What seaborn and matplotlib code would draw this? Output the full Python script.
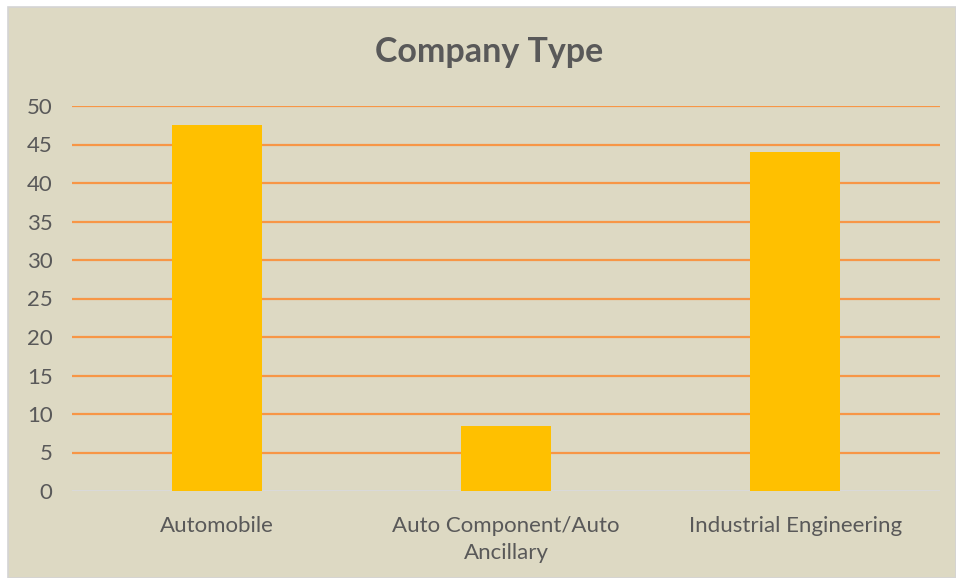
import matplotlib
matplotlib.use("Agg")
import matplotlib.pyplot as plt
from matplotlib.patches import Rectangle
import seaborn as sns
import pandas as pd

categories = ["Automobile", "Auto Component/Auto\nAncillary", "Industrial Engineering"]
values = [47.5, 8.5, 44.0]
yticks = [0, 5, 10, 15, 20, 25, 30, 35, 40, 45, 50]

sns.set_theme(style="white")
plt.rcParams['font.family'] = ['Lato', 'DejaVu Sans']

BG = "#DDD9C3"
TXT = "#595959"

fig = plt.figure(figsize=(9.56, 5.78), dpi=100)
fig.patch.set_facecolor("white")
fig.add_artist(Rectangle((7.5/956, 0.5/578), 948/956, 571/578, transform=fig.transFigure,
                         facecolor=BG, edgecolor="#D4D4D4", linewidth=1.2, zorder=0))

ax = fig.add_axes([72/956, (578-491)/578, 868/956, (491-106)/578])
ax.set_facecolor("none")
df = pd.DataFrame({"cat": categories, "val": values})
sns.barplot(data=df, x="cat", y="val", color="#FFC000", width=0.31, saturation=1,
            edgecolor="none", linewidth=0, ax=ax, zorder=3)
ax.set_ylim(0, 50)
ax.set_xlim(-0.5, 2.5)
ax.set_yticks(yticks)
ax.set_yticklabels([str(t) for t in yticks])
for t in yticks[1:]:
    ax.axhline(t, color="#F79646", linewidth=1.6, zorder=1)
ax.axhline(0, color="#D9D9D9", linewidth=1.5, zorder=2)
for s in ax.spines.values():
    s.set_visible(False)
ax.set_xlabel("")
ax.set_ylabel("")
ax.tick_params(axis="both", length=0, labelsize=16, labelcolor=TXT)
ax.tick_params(axis="y", pad=14)
ax.tick_params(axis="x", pad=18)
for lab in ax.get_xticklabels():
    lab.set_linespacing(1.45)

fig.text(489/956, 1 - 52/578, "Company Type", ha="center", va="center",
         fontsize=24.5, fontweight="bold", color=TXT)

fig.savefig("out.png", dpi=100, facecolor=fig.get_facecolor())
